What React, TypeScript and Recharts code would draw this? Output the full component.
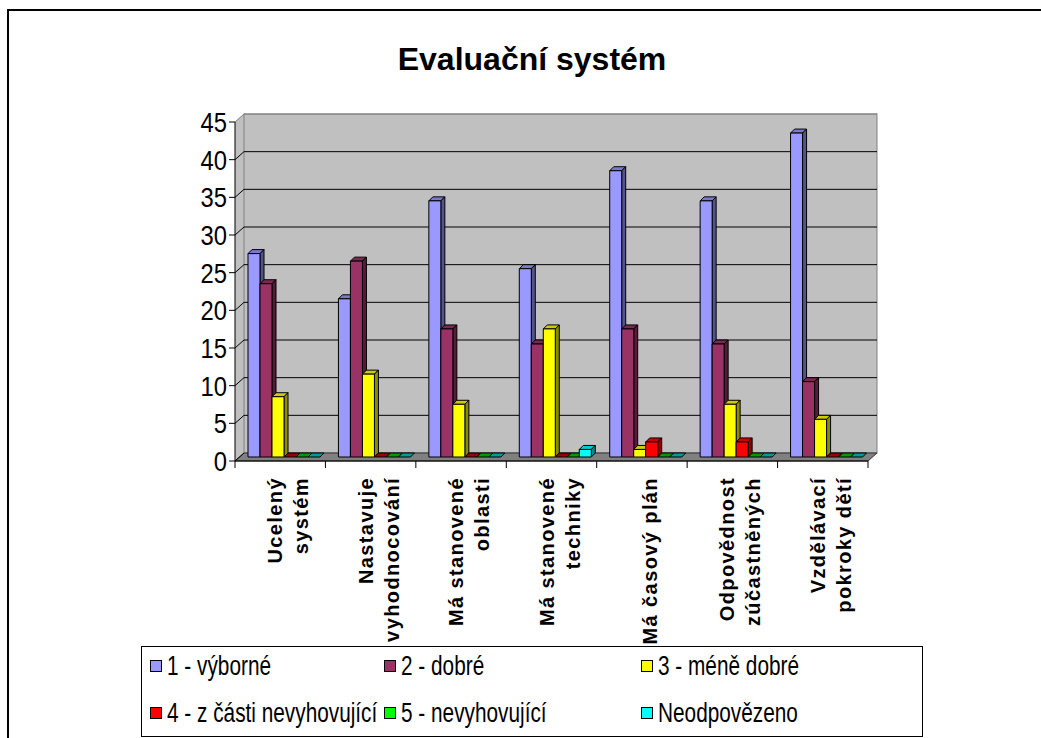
import { BarChart, Bar, XAxis, YAxis, CartesianGrid, Legend } from "recharts"

const tickLines = [
  ["Ucelený", "systém"],
  ["Nastavuje", "vyhodnocování"],
  ["Má stanovené", "oblasti"],
  ["Má stanovené", "techniky"],
  ["Má časový plán"],
  ["Odpovědnost", "zúčastněných"],
  ["Vzdělávací", "pokroky dětí"],
]
const categories = tickLines.map((l) => l.join(" "))

const seriesNames = [
  "1 - výborné",
  "2 - dobré",
  "3 - méně dobré",
  "4 - z části nevyhovující",
  "5 - nevyhovující",
  "Neodpovězeno",
]
const vyborne = [27, 21, 34, 25, 38, 34, 43]
const dobre = [23, 26, 17, 15, 17, 15, 10]
const meneDobre = [8, 11, 7, 17, 1, 7, 5]
const zCastiNevyhovujici = [0, 0, 0, 0, 2, 2, 0]
const nevyhovujici = [0, 0, 0, 0, 0, 0, 0]
const neodpovezeno = [0, 0, 0, 1, 0, 0, 0]
const yTicks = [0, 5, 10, 15, 20, 25, 30, 35, 40, 45]

const seriesValues = [vyborne, dobre, meneDobre, zCastiNevyhovujici, nevyhovujici, neodpovezeno]
const colors = ["#9999FF", "#993366", "#FFFF00", "#FF0000", "#00FF00", "#00FFFF"]

const data = categories.map((name, i) => {
  const row: Record<string, string | number> = { name }
  seriesValues.forEach((vals, s) => (row["s" + s] = vals[i]))
  return row
})

// layout
const W = 1041
const H = 738
const PLOT_LEFT = 235
const PLOT_RIGHT = 868
const PLOT_TOP = 122
const PLOT_BOTTOM = 461
const WALL_DX = 9
const WALL_DY = 8
const BAR_SHIFT = 4
const BAR_DEPTH = 4
const FONT = "'Liberation Sans', Arial, Helvetica, sans-serif"

function shade(hex: string, f: number) {
  const n = parseInt(hex.slice(1), 16)
  const r = Math.round(((n >> 16) & 255) * f)
  const g = Math.round(((n >> 8) & 255) * f)
  const b = Math.round((n & 255) * f)
  return `rgb(${r},${g},${b})`
}

function Bar3D(props: any) {
  const { x, y, width, height, fill } = props
  const fx = x + BAR_SHIFT
  const fy = y - BAR_SHIFT
  const d = BAR_DEPTH
  const h = Math.max(height || 0, 0)
  return (
    <g stroke="#000" strokeWidth={1} strokeLinejoin="round">
      <polygon
        points={`${fx},${fy} ${fx + d},${fy - d} ${fx + width + d},${fy - d} ${fx + width},${fy}`}
        fill={shade(fill, h > 0 ? 0.8 : 0.6)}
      />
      {h > 0 && (
        <polygon
          points={`${fx + width},${fy} ${fx + width + d},${fy - d} ${fx + width + d},${fy + h - d} ${fx + width},${fy + h}`}
          fill={shade(fill, 0.55)}
        />
      )}
      {h > 0 && <rect x={fx} y={fy} width={width} height={h} fill={fill} />}
    </g>
  )
}

function gridLine(p: any) {
  const { x1, y1, x2, index, x, y, width, height } = p
  const isTop = Math.abs(y1 - y) < 0.5
  const isBottom = Math.abs(y1 - (y + height)) < 0.5
  const b = y + height
  return (
    <g key={"g" + index}>
      {index === 0 && (
        <g>
          <polygon
            points={`${x},${y} ${x + WALL_DX},${y - WALL_DY} ${x + WALL_DX},${b - WALL_DY} ${x},${b}`}
            fill="#c0c0c0"
          />
          <rect x={x + WALL_DX} y={y - WALL_DY} width={width} height={height} fill="#c0c0c0" stroke="#808080" />
          <polygon
            points={`${x},${b} ${x + WALL_DX},${b - WALL_DY} ${x + width + WALL_DX},${b - WALL_DY} ${x + width},${b}`}
            fill="#808080"
            stroke="#333"
          />
        </g>
      )}
      {!isBottom && (
        <line x1={x1 + WALL_DX} y1={y1 - WALL_DY} x2={x2 + WALL_DX} y2={y1 - WALL_DY} stroke={isTop ? "#808080" : "#000"} />
      )}
      <line x1={x1} y1={y1} x2={x1 + WALL_DX} y2={y1 - WALL_DY} stroke={isTop ? "#808080" : "#000"} />
    </g>
  )
}

function YTick(props: any) {
  const { x, y, payload } = props
  return (
    <text
      transform={`translate(${x},${y}) scale(0.85,1)`}
      textAnchor="end"
      dy="0.36em"
      fontSize={28}
      fontFamily={FONT}
      fill="#000"
    >
      {payload.value}
    </text>
  )
}

function XTick(props: any) {
  const { x, y, index } = props
  const lines = tickLines[index]
  const step = (PLOT_RIGHT - PLOT_LEFT) / categories.length
  const cx = x + 8
  return (
    <g>
      <line x1={x - step / 2} y1={y} x2={x - step / 2} y2={y + 7} stroke="#000" />
      {index === categories.length - 1 && (
        <line x1={x + step / 2} y1={y} x2={x + step / 2} y2={y + 7} stroke="#000" />
      )}
      {lines.map((t, i) => (
        <text
          key={i}
          transform={`translate(${cx + (i - (lines.length - 1) / 2) * 26},${y + 16}) rotate(-90)`}
          textAnchor="end"
          dy="0.35em"
          fontSize={20}
          fontWeight="bold"
          letterSpacing={1.4}
          fontFamily={FONT}
          fill="#000"
        >
          {t}
        </text>
      ))}
    </g>
  )
}

const legendCols = [8, 242, 499]
const legendRows = [19, 66]

function LegendBox() {
  return (
    <div
      style={{
        position: "relative",
        width: 782,
        height: 91,
        border: "1px solid #000",
        boxSizing: "border-box",
        background: "#fff",
        fontFamily: FONT,
      }}
    >
      {seriesNames.map((name, i) => {
        const left = legendCols[i % 3]
        const top = legendRows[Math.floor(i / 3)]
        return (
          <div key={name} style={{ position: "absolute", left, top: top - 15, height: 30, whiteSpace: "nowrap" }}>
            <div
              style={{
                position: "absolute",
                left: 0,
                top: 9,
                width: 10,
                height: 10,
                border: "1px solid #000",
                background: colors[i],
              }}
            />
            <div
              style={{
                position: "absolute",
                left: 17,
                top: 0,
                fontSize: 27,
                lineHeight: "30px",
                color: "#000",
                transform: "scaleX(0.77)",
                transformOrigin: "left center",
              }}
            >
              {name}
            </div>
          </div>
        )
      })}
    </div>
  )
}

export default function App() {
  return (
    <div
      style={{
        position: "fixed",
        left: 0,
        top: 0,
        width: W,
        height: H,
        overflow: "hidden",
        background: "#fff",
        fontFamily: FONT,
      }}
    >
      <div
        style={{
          position: "absolute",
          left: 7,
          top: 9,
          width: 2000,
          height: 2000,
          borderTop: "2px solid #000",
          borderLeft: "2px solid #000",
        }}
      />
      <div
        style={{
          position: "absolute",
          left: 0,
          top: 43,
          width: 1064,
          textAlign: "center",
          fontSize: 32,
          lineHeight: "32px",
          fontWeight: "bold",
          whiteSpace: "nowrap",
          color: "#000",
        }}
      >
        Evaluační systém
      </div>
      <div style={{ position: "absolute", left: 0, top: 0 }}>
        <BarChart
          width={W}
          height={H}
          data={data}
          margin={{ top: PLOT_TOP, right: W - PLOT_RIGHT, bottom: 0, left: 0 }}
          barGap={0}
        >
          <CartesianGrid vertical={false} horizontal={gridLine} />
          <XAxis
            dataKey="name"
            height={H - PLOT_BOTTOM}
            interval={0}
            tickLine={false}
            tickSize={0}
            tickMargin={0}
            axisLine={{ stroke: "#000" }}
            tick={<XTick />}
          />
          <YAxis
            width={PLOT_LEFT}
            domain={[0, 45]}
            ticks={yTicks}
            interval={0}
            tickSize={6}
            tickMargin={2}
            axisLine={{ stroke: "#000" }}
            tickLine={{ stroke: "#000" }}
            tick={<YTick />}
          />
          {seriesNames.map((name, i) => (
            <Bar
              key={name}
              dataKey={"s" + i}
              name={name}
              fill={colors[i]}
              barSize={12}
              shape={<Bar3D />}
              isAnimationActive={false}
            />
          ))}
          <Legend
            layout="horizontal"
            verticalAlign="middle"
            align="center"
            wrapperStyle={{ left: 141, top: 646, width: 782, height: 91 }}
            content={() => <LegendBox />}
          />
        </BarChart>
      </div>
    </div>
  )
}
